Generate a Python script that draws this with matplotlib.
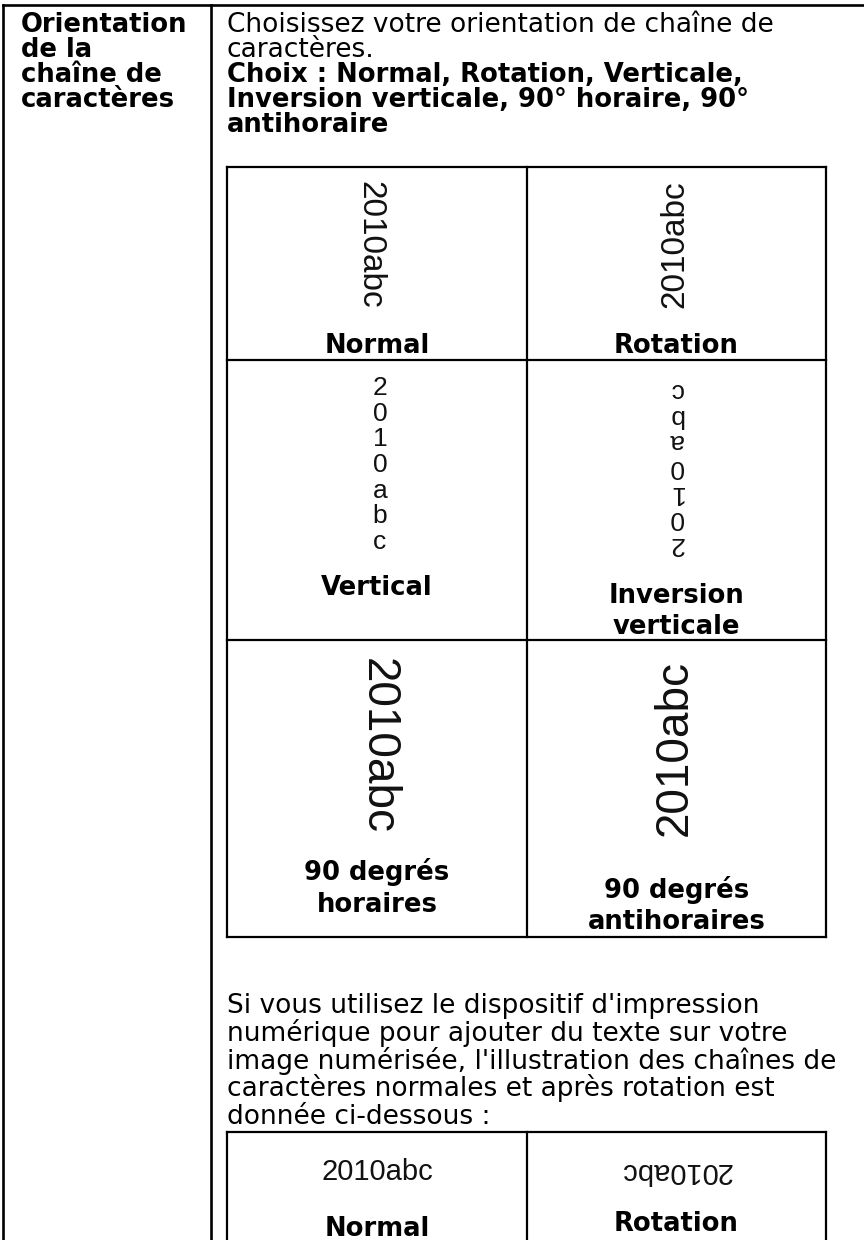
import matplotlib.pyplot as plt

# texts of the table
title_lines = ["Orientation", "de la", "chaîne de", "caractères"]
intro_lines = ["Choisissez votre orientation de chaîne de", "caractères."]
choice_lines = ["Choix : Normal, Rotation, Verticale,",
                "Inversion verticale, 90° horaire, 90°",
                "antihoraire"]
sample = "2010abc"
row_labels = [(["Normal"], ["Rotation"]),
              (["Vertical"], ["Inversion", "verticale"]),
              (["90 degrés", "horaires"], ["90 degrés", "antihoraires"])]
note_lines = ["Si vous utilisez le dispositif d'impression",
              "numérique pour ajouter du texte sur votre",
              "image numérisée, l'illustration des chaînes de",
              "caractères normales et après rotation est",
              "donnée ci-dessous :"]
print_labels = ["Normal", "Rotation"]

W, H = 864, 1240
main_font = "DejaVu Sans"
sample_font = "Liberation Sans"
ink = "#111111"

fig = plt.figure(figsize=(W / 100, H / 100), dpi=100)
ax = fig.add_axes([0, 0, 1, 1])
ax.set_xlim(0, W)
ax.set_ylim(H, 0)
ax.axis("off")


def hline(y, x0, x1, lw=1.6):
    ax.plot([x0, x1], [y, y], color="black", lw=lw, solid_capstyle="projecting")


def vline(x, y0, y1, lw=1.6):
    ax.plot([x, x], [y0, y1], color="black", lw=lw, solid_capstyle="projecting")


# outer table
hline(5, 3, W, lw=1.9)
vline(3, 5, H, lw=1.9)
vline(211, 5, H, lw=1.9)

# inner table with the orientations
tx0, tmid, tx1 = 227, 527, 826
rows_y = [167, 360, 640, 937]
for y in rows_y:
    hline(y, tx0, tx1)
for x in (tx0, tmid, tx1):
    vline(x, rows_y[0], rows_y[-1])

# second table (printer)
t2_top = 1132
hline(t2_top, tx0, tx1)
for x in (tx0, tmid, tx1):
    vline(x, t2_top, H)

cx_left = (tx0 + tmid) / 2
cx_right = (tmid + tx1) / 2

bold_size = 18.6
reg_size = 19

# left column
for i, s in enumerate(title_lines):
    ax.text(21, 32 + 25 * i, s, fontsize=bold_size, fontweight="bold",
            family=main_font, va="baseline", ha="left", color="black")

# right column header
for i, s in enumerate(intro_lines):
    ax.text(227, 32 + 25 * i, s, fontsize=reg_size, family=main_font,
            va="baseline", ha="left", color="black")
for i, s in enumerate(choice_lines):
    ax.text(227, 82 + 25 * i, s, fontsize=bold_size, fontweight="bold",
            family=main_font, va="baseline", ha="left", color="black")

# row 1: normal / rotation
ax.text(370, 245, sample, rotation=-90, fontsize=24, family=sample_font,
        ha="center", va="center", color=ink)
ax.text(675, 244, sample, rotation=90, fontsize=24, family=sample_font,
        ha="center", va="center", color=ink)

# row 2: vertical / inverted vertical
stack = "\n".join(sample)
ax.text(380, 465, stack, fontsize=19, family=sample_font, ha="center",
        va="center", multialignment="center", linespacing=1.08, color=ink)
ax.text(676, 467, stack, rotation=180, fontsize=19, family=sample_font,
        ha="center", va="center", multialignment="center", linespacing=1.08,
        color=ink)

# row 3: 90 degrees cw / ccw
ax.text(378, 746, sample, rotation=-90, fontsize=33, family=sample_font,
        ha="center", va="center", color=ink)
ax.text(675, 748, sample, rotation=90, fontsize=33, family=sample_font,
        ha="center", va="center", color=ink)

# labels in the cells
label_base = [(353, 353), (595, 603), (880, 898)]
for (left, right), (yl, yr) in zip(row_labels, label_base):
    for i, s in enumerate(left):
        ax.text(cx_left, yl + 32 * i, s, fontsize=bold_size, fontweight="bold",
                family=main_font, ha="center", va="baseline")
    for i, s in enumerate(right):
        ax.text(cx_right, yr + 31 * i, s, fontsize=bold_size, fontweight="bold",
                family=main_font, ha="center", va="baseline")

# note paragraph
for i, s in enumerate(note_lines):
    ax.text(227, 1013 + 27.8 * i, s, fontsize=reg_size, family=main_font,
            va="baseline", ha="left", color="black")

# printer samples
ax.text(377, 1172, sample, fontsize=21, family=sample_font, ha="center",
        va="center", color=ink)
ax.text(676, 1171, sample, rotation=180, fontsize=21, family=sample_font,
        ha="center", va="center", color=ink)
ax.text(cx_left, 1236, print_labels[0], fontsize=bold_size, fontweight="bold",
        family=main_font, ha="center", va="baseline")
ax.text(cx_right, 1231, print_labels[1], fontsize=bold_size, fontweight="bold",
        family=main_font, ha="center", va="baseline")

fig.savefig("out.png", dpi=100)
